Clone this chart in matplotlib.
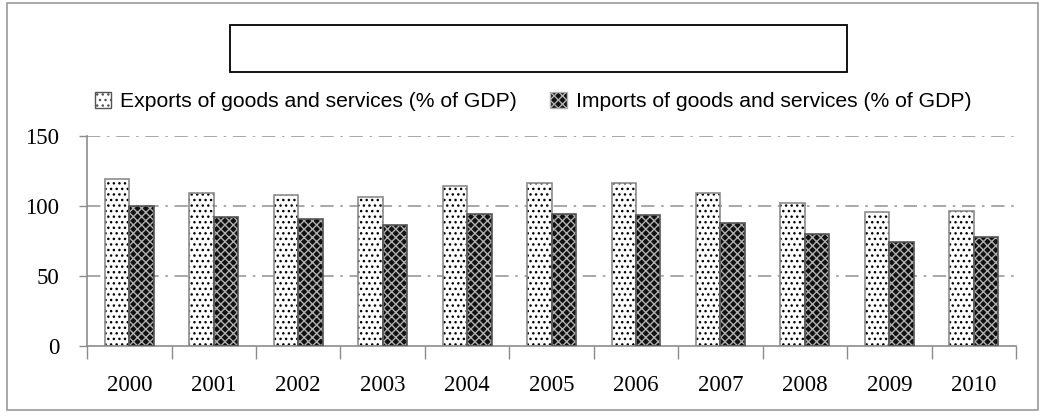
import matplotlib.pyplot as plt
import matplotlib.patches as mpatches
import numpy as np

years = ['2000', '2001', '2002', '2003', '2004', '2005', '2006', '2007', '2008', '2009', '2010']
exports = [119.3, 109.3, 108.0, 106.4, 114.3, 116.4, 116.4, 109.3, 102.0, 95.5, 96.2]
imports = [100.0, 92.0, 90.7, 86.4, 94.3, 94.0, 93.6, 88.0, 79.8, 74.5, 78.0]

exp_label = 'Exports of goods and services (% of GDP)'
imp_label = 'Imports of goods and services (% of GDP)'

plt.rcParams['hatch.linewidth'] = 1.0

fig = plt.figure(figsize=(10.45, 4.18), dpi=100)
ax = fig.add_axes([0.0833, 0.1722, 0.889, 0.5024])

x = np.arange(len(years))
w = 0.29

# hatched fills first (hatch takes the edge colour), outlines on top
ax.bar(x - w / 2, exports, w, color='white', edgecolor='black', hatch='...', linewidth=0, zorder=2)
ax.bar(x + w / 2, imports, w, color='#111111', edgecolor='#b0b0b0', hatch='xxxx', linewidth=0, zorder=2)
ax.bar(x - w / 2, exports, w, fill=False, edgecolor='#8c8c8c', linewidth=1.2, zorder=3)
ax.bar(x + w / 2, imports, w, fill=False, edgecolor='#555555', linewidth=1.2, zorder=3)

ax.set_xlim(-0.5, len(years) - 0.5)
ax.set_ylim(0, 150)
ax.set_yticks([0, 50, 100, 150])
ax.set_xticks(x)
ax.set_xticklabels(years)
ax.set_xticks(np.arange(-0.5, len(years)), minor=True)
ax.tick_params(axis='x', which='major', length=0, pad=21)
ax.tick_params(axis='x', which='minor', length=9, width=1, color='#8c8c8c', direction='out')
ax.tick_params(axis='y', length=6, width=1, color='#8c8c8c', pad=14)
for lbl in ax.get_xticklabels() + ax.get_yticklabels():
    lbl.set_fontfamily('Liberation Serif')
    lbl.set_fontsize(16.5)

for val in [50, 100, 150]:
    ax.axhline(val, color='#999999', linestyle='-.', linewidth=1.2, dashes=(8, 4, 1.5, 4), zorder=1)

for side in ['top', 'right']:
    ax.spines[side].set_visible(False)
for side in ['left', 'bottom']:
    ax.spines[side].set_color('#8c8c8c')
    ax.spines[side].set_linewidth(1.2)

handles = [
    mpatches.Patch(facecolor='white', edgecolor='#555555', hatch='...', label=exp_label),
    mpatches.Patch(facecolor='#111111', edgecolor='#b0b0b0', hatch='xxxx', label=imp_label),
]
fig.legend(handles=handles, loc='center', bbox_to_anchor=(0.51, 0.757), ncol=2, frameon=False,
           prop={'family': 'Liberation Sans', 'size': 15.2}, handlelength=0.8, handleheight=0.8,
           handletextpad=0.4, columnspacing=1.6)

# empty title box and outer frame
fig.patches.append(mpatches.Rectangle((230 / 1045, 1 - 72 / 418), 617 / 1045, 47 / 418,
                                      transform=fig.transFigure, facecolor='white',
                                      edgecolor='black', linewidth=1.3))
fig.patches.append(mpatches.Rectangle((7 / 1045, 1 - 410 / 418), 1031 / 1045, 407 / 418,
                                      transform=fig.transFigure, fill=False,
                                      edgecolor='#9a9a9a', linewidth=1.2))

fig.savefig('out.png', dpi=100)
